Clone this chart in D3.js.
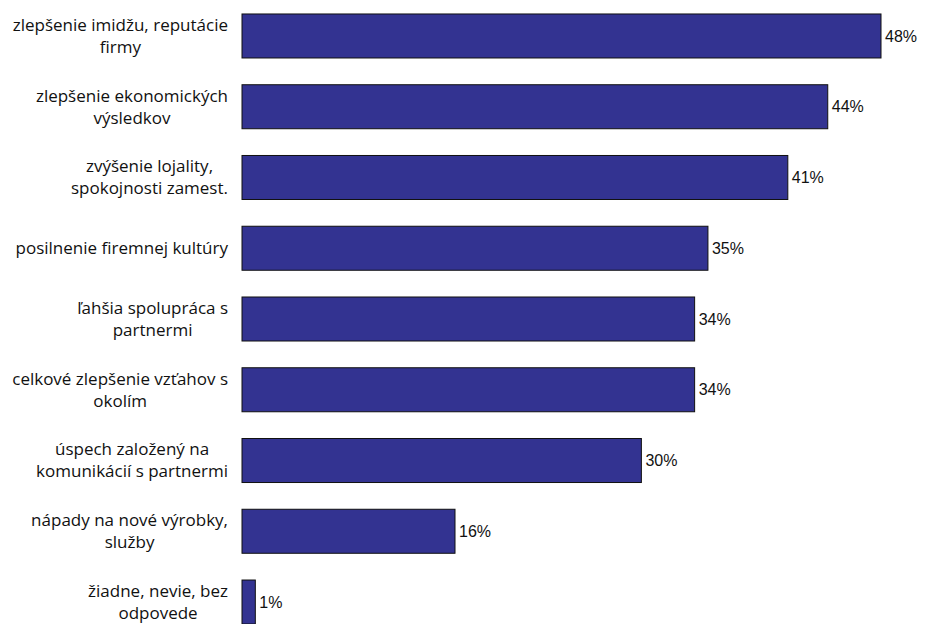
<!DOCTYPE html>
<html>
<head>
<meta charset="utf-8">
<script src="https://cdn.jsdelivr.net/npm/d3@7"></script>
<style>
  body { margin: 0; background: #fff; }
</style>
</head>
<body>
<script>
const categories = [
  ["zlepšenie imidžu, reputácie", "firmy"],
  ["zlepšenie ekonomických", "výsledkov"],
  ["zvýšenie lojality,", "spokojnosti zamest."],
  ["posilnenie firemnej kultúry"],
  ["ľahšia spolupráca s", "partnermi"],
  ["celkové zlepšenie vzťahov s", "okolím"],
  ["úspech založený na", "komunikácií s partnermi"],
  ["nápady na nové výrobky,", "služby"],
  ["žiadne, nevie, bez", "odpovede"]
];
const values = [48, 44, 41, 35, 34, 34, 30, 16, 1];

const width = 925, height = 624;
const margin = { top: 0.6, right: 44, bottom: -13.4, left: 242 };

const svg = d3.select("body").append("svg")
  .attr("width", width)
  .attr("height", height);

const x = d3.scaleLinear()
  .domain([0, 48])
  .range([margin.left, width - margin.right]);

const y = d3.scaleBand()
  .domain(d3.range(categories.length))
  .range([margin.top, height - margin.bottom])
  .paddingInner(0.378)
  .paddingOuter(0.189);

// bars
svg.append("g")
  .selectAll("rect")
  .data(values)
  .join("rect")
  .attr("x", x(0))
  .attr("y", (d, i) => y(i))
  .attr("width", d => x(d) - x(0))
  .attr("height", y.bandwidth())
  .attr("fill", "#333391")
  .attr("stroke", "#111")
  .attr("stroke-width", 1);

// value labels
svg.append("g")
  .selectAll("text")
  .data(values)
  .join("text")
  .attr("x", d => x(d) + 4)
  .attr("y", (d, i) => y(i) + y.bandwidth() / 2)
  .attr("dy", "0.35em")
  .attr("font-family", "Liberation Sans, Arial, sans-serif")
  .attr("font-size", 16)
  .attr("fill", "#111")
  .text(d => d + "%");

// category labels, lines centred on each other, block right-aligned
const labelRight = 228;
const lineH = 22;
const lab = svg.append("g")
  .attr("font-family", "Open Sans, sans-serif")
  .attr("font-size", 17)
  .attr("fill", "#111");

categories.forEach((lines, i) => {
  const t = lab.append("text")
    .attr("text-anchor", "middle");
  const cy = y(i) + y.bandwidth() / 2;
  lines.forEach((s, k) => {
    t.append("tspan")
      .attr("y", cy + (k - (lines.length - 1) / 2) * lineH)
      .attr("dy", "0.35em")
      .text(s);
  });
  let maxW = 0;
  t.selectAll("tspan").each(function () {
    maxW = Math.max(maxW, this.getComputedTextLength());
  });
  t.selectAll("tspan").attr("x", labelRight - maxW / 2);
});
</script>
</body>
</html>
